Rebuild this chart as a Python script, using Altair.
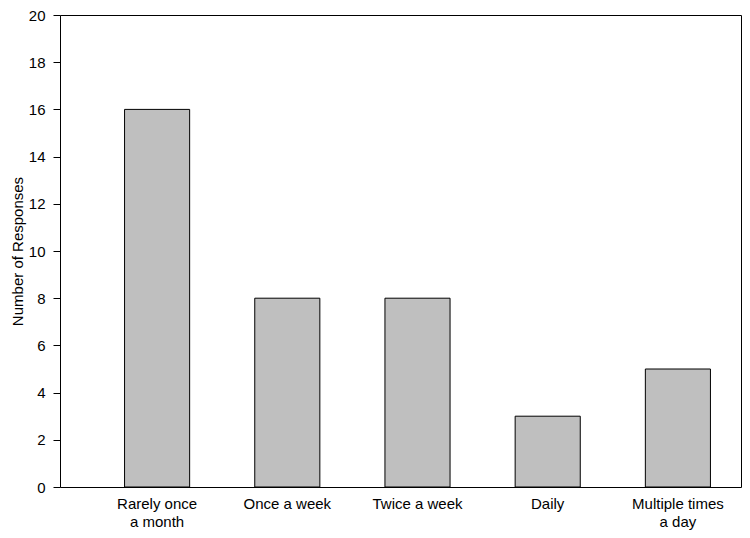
import altair as alt
import pandas as pd

categories = ["Rarely once|a month", "Once a week", "Twice a week", "Daily", "Multiple times|a day"]
responses = [16, 8, 8, 3, 5]
y_ticks = [0, 2, 4, 6, 8, 10, 12, 14, 16, 18, 20]

df = pd.DataFrame({"category": categories, "responses": responses})

FONT = "Liberation Sans, Arial, Helvetica, sans-serif"

chart = (
    alt.Chart(df)
    .mark_bar(fill="#bfbfbf", stroke="black", strokeWidth=1)
    .encode(
        x=alt.X(
            "category:N",
            sort=None,
            title=None,
            scale=alt.Scale(range=[32, 683], paddingInner=0.5, paddingOuter=0.25),
            axis=alt.Axis(
                labelAngle=0,
                domain=False,
                ticks=False,
                labelPadding=9,
                labelFontSize=15,
                labelFont=FONT,
                labelColor="black",
                labelLineHeight=18,
                labelExpr="split(datum.label, '|')",
            ),
        ),
        y=alt.Y(
            "responses:Q",
            title="Number of Responses",
            scale=alt.Scale(domain=[0, 20], nice=False),
            axis=alt.Axis(
                values=y_ticks,
                grid=False,
                domain=False,
                tickSize=7,
                tickColor="black",
                labelPadding=8,
                labelFontSize=15,
                labelFont=FONT,
                labelColor="black",
                titleFontSize=15,
                titleFont=FONT,
                titleFontWeight="normal",
                titleColor="black",
                titlePadding=3,
            ),
        ),
    )
    .properties(
        width=681,
        height=472,
        autosize=alt.AutoSizeParams(type="none"),
        padding={"left": 52, "top": 7, "right": 1, "bottom": 43},
    )
    .configure_view(stroke="black", strokeWidth=1)
)

chart.save("out.html", embed_options={"renderer": "svg", "actions": False})
